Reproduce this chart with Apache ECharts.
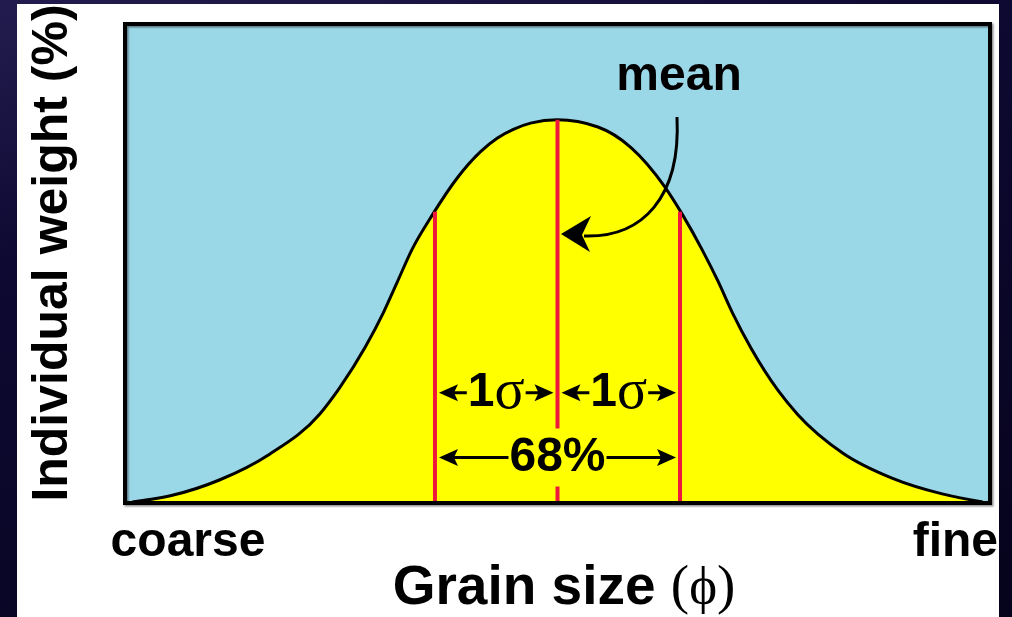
<!DOCTYPE html>
<html>
<head>
<meta charset="utf-8">
<script src="https://cdn.jsdelivr.net/npm/echarts@6/dist/echarts.min.js"></script>
<style>
  html, body { margin: 0; padding: 0; width: 1012px; height: 617px; overflow: hidden;
    background: linear-gradient(165deg, #221d4e 0%, #0e0932 30%, #06031c 100%); }
  #panel { position: absolute; left: 17px; top: 4px; width: 982px; height: 613px; background: #ffffff; }
  #chart { position: absolute; left: 0; top: 0; width: 1012px; height: 617px; }
</style>
</head>
<body>
<div id="panel"></div>
<div id="chart"></div>
<script>
// Grain-size distribution curve (phi units relative to the mean) and weight %
const grainSize = [-3.47, -3.16, -2.76, -2.35, -1.94, -1.78, -1.57, -1.42, -1.31, -1.19, -1.02,
  -0.82, -0.63, -0.49, -0.36, -0.22, 0, 0.33, 0.60, 0.87, 1.02, 1.18, 1.31, 1.43, 1.58,
  1.80, 1.96, 2.33, 2.73, 3.14, 3.47];
const weight = [0.02, 0.15, 0.48, 1.02, 1.86, 2.40, 3.25, 3.98, 4.60, 5.28, 6.02,
  6.78, 7.33, 7.62, 7.80, 7.93, 8.00, 7.85, 7.42, 6.62, 6.02, 5.29, 4.63, 3.96, 3.23,
  2.35, 1.85, 1.04, 0.52, 0.19, 0.02];

// Vertical markers at -1 sigma, mean, +1 sigma (height reaches the curve)
const sigmaMarks = [-1, 0, 1];
const sigmaMarkTops = [6.08, 8.00, 6.08];

// Dimension arrows between markers
const spanStarts = [-1, 0, -1];
const spanEnds = [0, 1, 1];
const spanLevels = [2.30, 2.30, 0.95];
const spanTexts = ['1σ', '1σ', '68%'];

const xTitle = ['Grain size ', '(', 'ϕ', ')'];
const yTitle = 'Individual weight (%)';
const coarseLabel = 'coarse';
const fineLabel = 'fine';
const meanLabel = 'mean';

const SANS = '"Liberation Sans", Arial, Helvetica, sans-serif';
const SERIF = '"Liberation Serif", "Times New Roman", serif';
const RED = '#f0173d';

const curveData = grainSize.map((x, i) => [x, weight[i]]);
const sigmaData = sigmaMarks.map((x, i) => [x, sigmaMarkTops[i]]);
const spanData = spanStarts.map((s, i) => [s, spanEnds[i], spanLevels[i]]);

function richMarkup(t) {
  return t.replace(/([^σϕ]+)/g, '{n|$1}').replace(/([σϕ])/g, '{g|$1}');
}

// Monotone cubic (Fritsch–Carlson) tangents for a smooth curve through the points
function monotoneTangents(px, py) {
  const n = px.length, h = [], s = [], m = new Array(n);
  for (let i = 0; i < n - 1; i++) { h[i] = px[i + 1] - px[i]; s[i] = (py[i + 1] - py[i]) / h[i]; }
  for (let i = 1; i < n - 1; i++) {
    const s0 = s[i - 1], s1 = s[i];
    if (s0 * s1 <= 0) { m[i] = 0; continue; }
    const p = (s0 * h[i] + s1 * h[i - 1]) / (h[i - 1] + h[i]);
    m[i] = (Math.sign(s0) + Math.sign(s1)) * Math.min(Math.abs(s0), Math.abs(s1), 0.5 * Math.abs(p));
  }
  m[0] = (3 * s[0] - m[1]) / 2;
  m[n - 1] = (3 * s[n - 2] - m[n - 2]) / 2;
  return m;
}

function curvePath(pts) {
  const px = pts.map(p => p[0]), py = pts.map(p => p[1]);
  const m = monotoneTangents(px, py);
  let d = 'M' + px[0] + ' ' + py[0];
  for (let i = 0; i < pts.length - 1; i++) {
    const dx = (px[i + 1] - px[i]) / 3;
    d += ' C' + (px[i] + dx) + ' ' + (py[i] + m[i] * dx) + ' ' +
      (px[i + 1] - dx) + ' ' + (py[i + 1] - m[i + 1] * dx) + ' ' + px[i + 1] + ' ' + py[i + 1];
  }
  return d;
}

const chart = echarts.init(document.getElementById('chart'));

chart.setOption({
  backgroundColor: 'transparent',
  animation: false,
  grid: {
    left: 125, right: 22, top: 24, bottom: 114,
    show: true, backgroundColor: '#9ad8e8', borderWidth: 0
  },
  xAxis: { type: 'value', min: -3.53, max: 3.53, show: false },
  yAxis: { type: 'value', min: 0, max: 10, show: false },
  series: [
    {
      name: 'distribution',
      type: 'custom',
      data: curveData,
      encode: { x: 0, y: 1 },
      z: 2,
      renderItem: function (params, api) {
        if (params.dataIndex !== 0) return null;
        const pts = curveData.map(d => api.coord(d));
        const line = curvePath(pts);
        const b1 = api.coord([grainSize[grainSize.length - 1], 0]);
        const b0 = api.coord([grainSize[0], 0]);
        const area = line + ' L' + b1[0] + ' ' + b1[1] + ' L' + b0[0] + ' ' + b0[1] + ' Z';
        return {
          type: 'group',
          children: [
            { type: 'path', shape: { pathData: area }, style: { fill: '#ffff00', stroke: null } },
            { type: 'path', shape: { pathData: line }, style: { fill: null, stroke: '#000', lineWidth: 3 } }
          ]
        };
      }
    },
    {
      name: 'sigma markers',
      type: 'custom',
      data: sigmaData,
      encode: { x: 0, y: 1 },
      z: 3,
      renderItem: function (params, api) {
        const top = api.coord([api.value(0), api.value(1)]);
        const base = api.coord([api.value(0), 0]);
        return {
          type: 'line',
          shape: { x1: top[0], y1: top[1], x2: base[0], y2: base[1] },
          style: { stroke: RED, lineWidth: 4, lineCap: 'butt' }
        };
      }
    },
    {
      name: 'spans',
      type: 'custom',
      data: spanData,
      encode: { x: [0, 1], y: 2 },
      z: 4,
      renderItem: function (params, api) {
        const a = api.coord([api.value(0), api.value(2)]);
        const b = api.coord([api.value(1), api.value(2)]);
        const y = a[1];
        const tipL = a[0] + 4, tipR = b[0] - 4;
        const len = 19, half = 8.5, notch = 15;
        const text = spanTexts[params.dataIndex];
        return {
          type: 'group',
          children: [
            { type: 'line', shape: { x1: tipL + 10, y1: y, x2: tipR - 10, y2: y },
              style: { stroke: '#000', lineWidth: 3 } },
            { type: 'polygon', shape: { points: [[tipL, y], [tipL + len, y - half], [tipL + notch, y], [tipL + len, y + half]] },
              style: { fill: '#000' } },
            { type: 'polygon', shape: { points: [[tipR, y], [tipR - len, y - half], [tipR - notch, y], [tipR - len, y + half]] },
              style: { fill: '#000' } },
            { type: 'text', x: (a[0] + b[0]) / 2, y: y, z2: 10,
              style: {
                text: richMarkup(text),
                align: 'center', verticalAlign: 'middle',
                backgroundColor: '#ffff00', padding: [4, 1],
                rich: {
                  n: { font: 'bold 48px ' + SANS, fill: '#000', lineHeight: 50 },
                  g: { font: '56px ' + SERIF, fill: '#000', lineHeight: 50 }
                }
              } }
          ]
        };
      }
    }
  ],
  graphic: [
    // plot frame
    { type: 'rect', z: 100,
      shape: { x: 125, y: 24, width: 865, height: 479 },
      style: { fill: null, stroke: '#000', lineWidth: 4,
        shadowColor: 'rgba(0,0,0,0.45)', shadowBlur: 2, shadowOffsetX: 1.5, shadowOffsetY: 1.5 } },
    // mean pointer
    { type: 'text', z: 100, x: 679, y: 77,
      style: { text: meanLabel, font: 'bold 48px ' + SANS, fill: '#000', align: 'center', verticalAlign: 'middle' } },
    { type: 'bezierCurve', z: 100,
      shape: { x1: 677, y1: 117, cpx1: 681, cpy1: 198, cpx2: 642, cpy2: 238, x2: 584, y2: 236 },
      style: { stroke: '#000', lineWidth: 3, fill: null } },
    { type: 'polygon', z: 100,
      shape: { points: [[561, 234], [591, 216], [582, 235], [590, 252]] },
      style: { fill: '#000' } },
    // axis end labels
    { type: 'text', z: 100, x: 188, y: 543,
      style: { text: coarseLabel, font: 'bold 48px ' + SANS, fill: '#000', align: 'center', verticalAlign: 'middle' } },
    { type: 'text', z: 100, x: 998, y: 543,
      style: { text: fineLabel, font: 'bold 48px ' + SANS, fill: '#000', align: 'right', verticalAlign: 'middle' } },
    // axis titles
    { type: 'text', z: 100, x: 564, y: 589,
      style: {
        text: '{t|' + xTitle[0] + '}{p|' + xTitle[1] + '}{g|' + xTitle[2] + '}{p|' + xTitle[3] + '}',
        align: 'center', verticalAlign: 'middle',
        rich: {
          t: { font: 'bold 55px ' + SANS, fill: '#000' },
          p: { font: '55px ' + SERIF, fill: '#000' },
          g: { font: '53px ' + SERIF, fill: '#000' }
        }
      } },
    { type: 'text', z: 100, x: 53, y: 253, rotation: Math.PI / 2,
      style: { text: yTitle, font: 'bold 50px ' + SANS, fill: '#000', align: 'center', verticalAlign: 'middle' } }
  ]
});
</script>
</body>
</html>
